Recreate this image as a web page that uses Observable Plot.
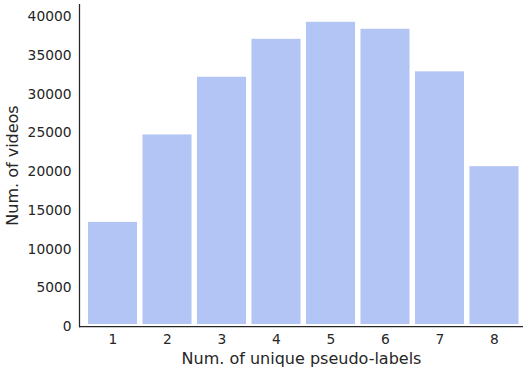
<!DOCTYPE html>
<html>
<head>
<meta charset="utf-8">
<script src="https://cdn.jsdelivr.net/npm/d3@7"></script>
<script src="https://cdn.jsdelivr.net/npm/@observablehq/plot@0.6"></script>
<style>
  html, body { margin: 0; padding: 0; background: #fff; }
  svg { font-family: "DejaVu Sans", sans-serif; }
</style>
</head>
<body>
<div id="chart"></div>
<script>
const labelCounts = [1, 2, 3, 4, 5, 6, 7, 8];
const videoCounts = [13450, 24750, 32200, 37100, 39300, 38400, 32900, 20650];
const yTicks = [0, 5000, 10000, 15000, 20000, 25000, 30000, 35000, 40000];
const xTitle = "Num. of unique pseudo-labels";
const yTitle = "Num. of videos";

const data = labelCounts.map((k, i) => ({k, n: videoCounts[i]}));
const ink = "#262626";

const chart = Plot.plot({
  width: 523,
  height: 367,
  marginLeft: 79,
  marginRight: 0,
  marginTop: 4,
  marginBottom: 41,
  style: {fontFamily: "DejaVu Sans, sans-serif", color: ink, background: "#fff"},
  x: {type: "band", domain: labelCounts, range: [79, 527.5], paddingInner: 0.1, paddingOuter: 0.165, align: 0.5, round: false},
  y: {domain: [0, 41600]},
  marks: [
    Plot.barY(data, {x: "k", y: "n", fill: "#b3c5f4", insetBottom: 2}),
    Plot.axisY({ticks: yTicks, tickSize: 0, tickPadding: 8, fontSize: 13.8, tickFormat: d => String(d), label: null}),
    Plot.axisX({tickSize: 0, tickPadding: 8, fontSize: 13.8, label: null}),
    Plot.axisY({ticks: [], tickSize: 0, fontSize: 16, label: yTitle, labelAnchor: "center", labelArrow: "none", labelOffset: 73}),
    Plot.axisX({ticks: [], tickSize: 0, fontSize: 16, label: xTitle, labelAnchor: "center", labelArrow: "none", labelOffset: 37}),
    Plot.ruleY([0], {stroke: ink, strokeWidth: 1.25}),
    Plot.frame({anchor: "left", stroke: ink, strokeWidth: 1.25})
  ]
});
document.getElementById("chart").appendChild(chart);
</script>
</body>
</html>
